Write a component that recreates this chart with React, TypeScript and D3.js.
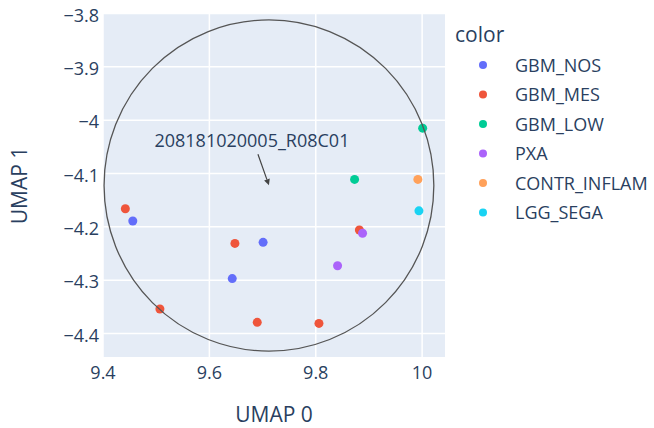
import * as React from 'react'
import { useEffect, useRef } from 'react'
import * as d3 from 'd3'

const categories = ['GBM_NOS', 'GBM_MES', 'GBM_LOW', 'PXA', 'CONTR_INFLAM', 'LGG_SEGA']
const palette = ['#636efa', '#EF553B', '#00cc96', '#ab63fa', '#FFA15A', '#19d3f3']

// points per category: [umap0, umap1]
const gbmNos = [[9.456, -4.189], [9.701, -4.229], [9.643, -4.297]]
const gbmMes = [[9.442, -4.166], [9.648, -4.231], [9.507, -4.354], [9.690, -4.379], [9.806, -4.381], [9.882, -4.206]]
const gbmLow = [[10.001, -4.015], [9.873, -4.111]]
const pxa = [[9.888, -4.212], [9.841, -4.273]]
const contrInflam = [[9.992, -4.111]]
const lggSega = [[9.994, -4.170]]
const series = [gbmNos, gbmMes, gbmLow, pxa, contrInflam, lggSega]

const xTicks = [9.4, 9.6, 9.8, 10]
const yTicks = [-3.8, -3.9, -4, -4.1, -4.2, -4.3, -4.4]

// circle shape bounds and annotation
const circleX = [9.402, 10.022]
const circleY = [-4.433, -3.812]
const annotation = { x: 9.712, y: -4.122, text: '208181020005_R08C01' }

const W = 654
const H = 428
const font = '"Open Sans", sans-serif'
const ink = '#2a3f5f'

const App = () => {
    const ref = useRef<SVGSVGElement>(null)

    useEffect(() => {
        const svg = d3.select(ref.current)
        svg.selectAll('*').remove()

        const left = 103, right = 445, top = 14, bottom = 357
        const x = d3.scaleLinear().domain([9.4, 10.043]).range([left, right])
        const y = d3.scaleLinear().domain([-3.8, -4.444]).range([top - 0.5, bottom])

        svg.append('rect')
            .attr('x', left).attr('y', top)
            .attr('width', right - left).attr('height', bottom - top)
            .attr('fill', '#E5ECF6')

        const grid = svg.append('g').attr('stroke', '#fff').attr('stroke-width', 1.5)
        grid.selectAll('line.gx').data(xTicks).enter().append('line')
            .attr('x1', d => x(d)).attr('x2', d => x(d))
            .attr('y1', top).attr('y2', bottom)
        grid.selectAll('line.gy').data(yTicks).enter().append('line')
            .attr('x1', left).attr('x2', right)
            .attr('y1', d => y(d)).attr('y2', d => y(d))

        const fmt = (d: number) => d3.format('')(d).replace('-', '\u2212')

        svg.append('g').selectAll('text').data(xTicks).enter().append('text')
            .attr('x', d => x(d)).attr('y', 378.5)
            .attr('text-anchor', 'middle')
            .style('font-family', font).style('font-size', '18px').attr('fill', ink)
            .text(d => fmt(d))

        svg.append('g').selectAll('text').data(yTicks).enter().append('text')
            .attr('x', 99).attr('y', d => y(d) + 8)
            .attr('text-anchor', 'end')
            .style('font-family', font).style('font-size', '18px').attr('fill', ink)
            .text(d => fmt(d))

        svg.append('text')
            .attr('x', (left + right) / 2).attr('y', 421.5)
            .attr('text-anchor', 'middle')
            .style('font-family', font).style('font-size', '21px').attr('fill', ink)
            .text('UMAP 0')

        svg.append('text')
            .attr('transform', `translate(27, ${(top + bottom) / 2}) rotate(-90)`)
            .attr('text-anchor', 'middle')
            .style('font-family', font).style('font-size', '21px').attr('fill', ink)
            .text('UMAP 1')

        series.forEach((pts, i) => {
            svg.append('g').selectAll('circle').data(pts).enter().append('circle')
                .attr('cx', d => x(d[0])).attr('cy', d => y(d[1]))
                .attr('r', 4.5)
                .attr('fill', palette[i])
        })

        svg.append('ellipse')
            .attr('cx', (x(circleX[0]) + x(circleX[1])) / 2)
            .attr('cy', (y(circleY[0]) + y(circleY[1])) / 2)
            .attr('rx', Math.abs(x(circleX[1]) - x(circleX[0])) / 2)
            .attr('ry', Math.abs(y(circleY[1]) - y(circleY[0])) / 2)
            .attr('fill', 'none').attr('stroke', '#555').attr('stroke-width', 1.3)

        // annotation with arrow
        const ax = x(annotation.x), ay = y(annotation.y)
        const sx = ax - 11, sy = ay - 31
        const ang = Math.atan2(ay - sy, ax - sx)
        const hl = 6, hw = 3
        const bx = ax - hl * Math.cos(ang), by = ay - hl * Math.sin(ang)
        svg.append('line')
            .attr('x1', sx).attr('y1', sy).attr('x2', bx).attr('y2', by)
            .attr('stroke', '#444').attr('stroke-width', 1.2)
        svg.append('path')
            .attr('d', `M${ax},${ay}L${bx - hw * Math.sin(ang)},${by + hw * Math.cos(ang)}L${bx + hw * Math.sin(ang)},${by - hw * Math.cos(ang)}Z`)
            .attr('fill', '#444')
        svg.append('text')
            .attr('x', ax - 17).attr('y', ay - 38)
            .attr('text-anchor', 'middle')
            .style('font-family', font).style('font-size', '18px').attr('fill', ink)
            .text(annotation.text)

        // legend
        const legend = svg.append('g')
        legend.append('text')
            .attr('x', 455).attr('y', 42)
            .style('font-family', font).style('font-size', '21px').attr('fill', ink)
            .text('color')
        const items = legend.selectAll('g.item').data(categories).enter().append('g')
            .attr('transform', (d, i) => `translate(0, ${65 + i * 29.5})`)
        items.append('circle').attr('cx', 483).attr('cy', 0).attr('r', 4)
            .attr('fill', (d, i) => palette[i])
        items.append('text').attr('x', 515).attr('y', 6.5)
            .style('font-family', font).style('font-size', '18px').attr('fill', ink)
            .text(d => d)
    }, [])

    return (
        <svg ref={ref} width={W} height={H}
            style={{ position: 'absolute', left: 0, top: 0, background: '#fff' }}></svg>
    )
}

export default App
